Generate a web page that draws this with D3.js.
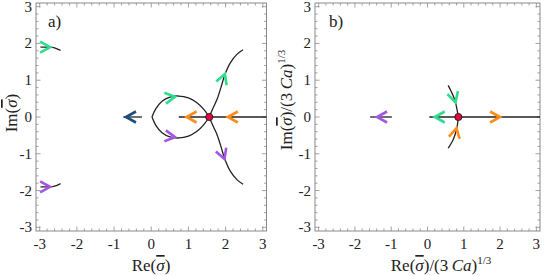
<!DOCTYPE html>
<html><head><meta charset="utf-8">
<script src="https://cdn.jsdelivr.net/npm/d3@7"></script>
<style>
html,body{margin:0;padding:0;background:#fff;}
svg text{font-family:"Liberation Serif",serif;fill:#222;}
</style></head>
<body><svg id="c" width="545" height="276"></svg>
<script>
// ---------- data ----------
const tickValues = [-3, -2, -1, 0, 1, 2, 3];
const tickLabels = ["-3", "-2", "-1", "0", "1", "2", "3"];
const axisDomain = [-3.1, 3.1];

// panel a
const aCritical = [[1.56, 0]];
const aRealAxis = [[0.74, 0], [3.1, 0]];
const aNegStub = [[-0.75, 0], [-0.25, 0]];
const aLobeUpper = [[0.02, 0], [0.12, 0.22], [0.29, 0.43], [0.5, 0.54], [0.74, 0.57], [1.0, 0.52], [1.23, 0.39], [1.42, 0.2], [1.56, 0]];
const aLobeLower = [[0.02, 0], [0.12, -0.22], [0.29, -0.43], [0.5, -0.54], [0.74, -0.57], [1.0, -0.52], [1.23, -0.39], [1.42, -0.2], [1.56, 0]];
const aBranchUpper = [[1.56, 0], [1.66, 0.24], [1.77, 0.48], [1.88, 0.82], [1.98, 1.15], [2.13, 1.48], [2.31, 1.71], [2.47, 1.83]];
const aBranchLower = [[1.56, 0], [1.66, -0.24], [1.77, -0.48], [1.88, -0.82], [1.98, -1.15], [2.13, -1.48], [2.31, -1.71], [2.47, -1.83]];
const aFarUpper = [[-2.98, 1.90], [-2.75, 1.90], [-2.6, 1.88], [-2.44, 1.81]];
const aFarLower = [[-2.98, -1.90], [-2.75, -1.90], [-2.6, -1.88], [-2.44, -1.81]];
const aArrowX = [-2.72, -2.72, -0.68, 0.64, 0.64, 0.95, 2.06, 1.98, 1.97];
const aArrowY = [1.90, -1.90, 0, 0.55, -0.55, 0, 0, 1.17, -1.14];
const aArrowAngle = [0, 0, 180, 8, -8, 180, 180, 70, -70];
const aArrowColor = ["green", "purple", "navy", "green", "purple", "orange", "orange", "green", "purple"];

// panel b
const bCritical = [[0.85, 0]];
const bRealAxis = [[0.05, 0], [3.1, 0]];
const bNegStub = [[-1.58, 0], [-0.98, 0]];
const bUpper = [[0.57, 0.86], [0.64, 0.72], [0.71, 0.57], [0.77, 0.40], [0.81, 0.22], [0.85, 0]];
const bLower = [[0.85, 0], [0.82, -0.24], [0.77, -0.45], [0.70, -0.63], [0.57, -0.85]];
const bArrowX = [-1.39, 0.20, 2.00, 0.77, 0.80];
const bArrowY = [0, 0, 0, 0.40, -0.30];
const bArrowAngle = [180, 180, 0, -74, 77];
const bArrowColor = ["purple", "green", "orange", "green", "orange"];

// ---------- style ----------
const FONT = "'Liberation Serif', serif";
const palette = {green: "#31dc8e", purple: "#a257e3", navy: "#1f4c7b", orange: "#ff8c1a"};
const svg = d3.select("#c");

function panel(cfg) {
  const x = d3.scaleLinear().domain(axisDomain).range([cfg.left, cfg.right]);
  const y = d3.scaleLinear().domain(axisDomain).range([cfg.bottom, cfg.top]);
  const g = svg.append("g");
  const minor = d3.range(-3, 3.001, 0.2).map(v => Math.round(v * 10) / 10);
  const frameColor = "#8a8a8a";

  const tg = g.append("g").attr("stroke", frameColor).attr("stroke-width", 0.8);
  minor.forEach(v => {
    const major = tickValues.includes(v);
    const L = major ? 4.5 : 2.5;
    tg.append("line").attr("x1", x(v)).attr("x2", x(v)).attr("y1", cfg.bottom).attr("y2", cfg.bottom - L);
    tg.append("line").attr("x1", x(v)).attr("x2", x(v)).attr("y1", cfg.top).attr("y2", cfg.top + L);
    tg.append("line").attr("y1", y(v)).attr("y2", y(v)).attr("x1", cfg.left).attr("x2", cfg.left + L);
    tg.append("line").attr("y1", y(v)).attr("y2", y(v)).attr("x1", cfg.right).attr("x2", cfg.right - L);
  });
  g.append("rect").attr("x", cfg.left).attr("y", cfg.top)
    .attr("width", cfg.right - cfg.left).attr("height", cfg.bottom - cfg.top)
    .attr("fill", "none").attr("stroke", frameColor).attr("stroke-width", 1);

  tickValues.forEach((v, i) => {
    g.append("text").attr("x", x(v)).attr("y", cfg.bottom + 17.5).attr("font-family", FONT)
      .attr("text-anchor", "middle").attr("font-size", 15).text(tickLabels[i]);
    g.append("text").attr("x", cfg.left - 4).attr("y", y(v) + 5).attr("font-family", FONT)
      .attr("text-anchor", "end").attr("font-size", 15).text(tickLabels[i]);
  });

  const line = d3.line().x(d => x(d[0])).y(d => y(d[1])).curve(d3.curveCatmullRom.alpha(0.5));
  const plotG = g.append("g");
  cfg.curves.forEach(c => {
    plotG.append("path").attr("d", line(c)).attr("fill", "none")
      .attr("stroke", "#222").attr("stroke-width", 1.3);
  });

  cfg.arrows.x.forEach((ax, i) => {
    const sx = x(ax), sy = y(cfg.arrows.y[i]);
    plotG.append("path").attr("d", "M-10,-5.5L0,0L-10,5.5")
      .attr("transform", `translate(${sx},${sy}) rotate(${-cfg.arrows.angle[i]})`)
      .attr("fill", "none").attr("stroke", palette[cfg.arrows.color[i]])
      .attr("stroke-width", 2.6).attr("stroke-linejoin", "miter").attr("stroke-linecap", "butt");
  });

  cfg.critical.forEach(p => {
    plotG.append("circle").attr("cx", x(p[0])).attr("cy", y(p[1])).attr("r", 3.6)
      .attr("fill", "#e0083f").attr("stroke", "#111").attr("stroke-width", 0.8);
  });

  g.append("text").attr("x", cfg.tagX).attr("y", 27).attr("font-family", FONT)
    .attr("font-size", 17).text(cfg.tag);
  return {g, x, y};
}

const A = panel({
  left: 36, right: 266.5, top: 3, bottom: 231,
  curves: [aRealAxis, aNegStub, aLobeUpper, aLobeLower, aBranchUpper, aBranchLower, aFarUpper, aFarLower],
  arrows: {x: aArrowX, y: aArrowY, angle: aArrowAngle, color: aArrowColor},
  critical: aCritical, tag: "a)", tagX: 48
});
const B = panel({
  left: 315, right: 540, top: 3, bottom: 231,
  curves: [bRealAxis, bNegStub, bUpper, bLower],
  arrows: {x: bArrowX, y: bArrowY, angle: bArrowAngle, color: bArrowColor},
  critical: bCritical, tag: "b)", tagX: 329
});

function title(g, tx, ty, rot, withScale) {
  const t = g.append("text").attr("text-anchor", "middle").attr("font-size", 17)
    .attr("font-family", FONT)
    .attr("transform", `translate(${tx},${ty}) rotate(${rot})`);
  t.append("tspan").text(rot ? "Im(" : "Re(");
  t.append("tspan").attr("font-style", "italic")
    .style("text-decoration", "overline").text("\u03C3");
  t.append("tspan").text(")");
  if (withScale) {
    t.append("tspan").text("/(3\u2009");
    t.append("tspan").attr("font-style", "italic").text("Ca");
    t.append("tspan").text(")");
    t.append("tspan").attr("font-size", 11).attr("dy", -7).text("1/3");
  }
}
title(A.g, 151, 271, 0, false);
title(A.g, 17, 113, -90, false);
title(B.g, 441, 271, 0, true);
title(B.g, 292, 100, -90, true);
</script></body></html>
